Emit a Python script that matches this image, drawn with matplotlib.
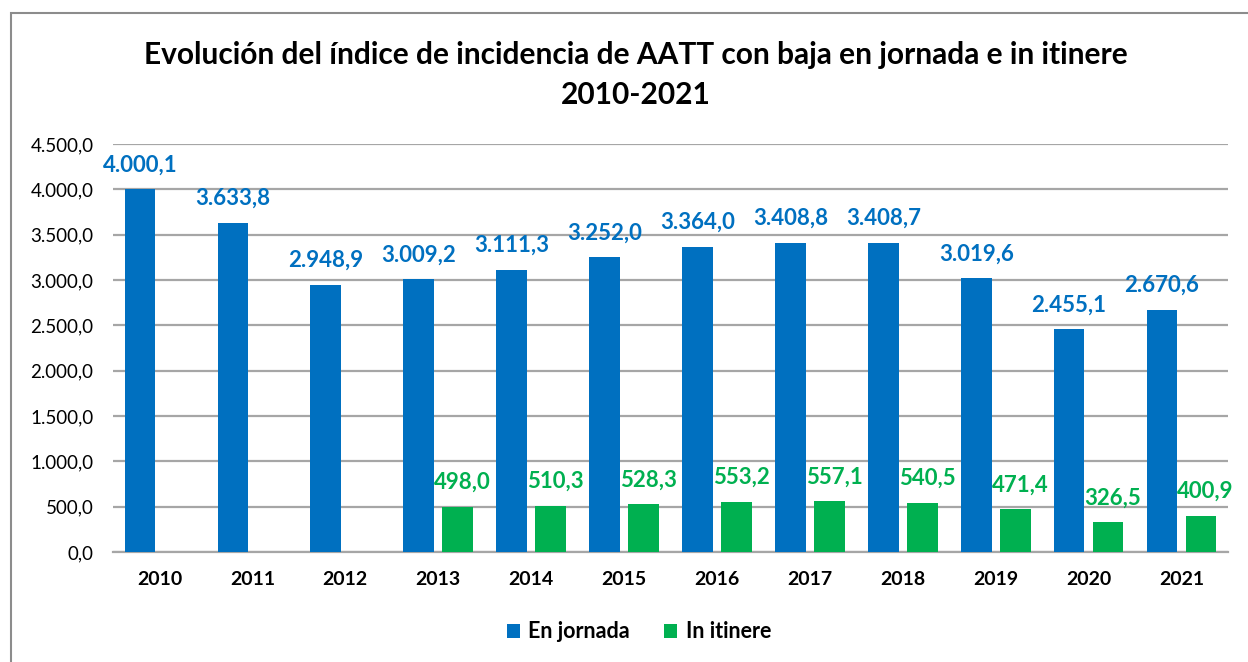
import matplotlib
matplotlib.use("Agg")
import matplotlib.pyplot as plt
import numpy as np
from matplotlib.patches import Rectangle
from matplotlib.ticker import FuncFormatter

years = ["2010", "2011", "2012", "2013", "2014", "2015",
         "2016", "2017", "2018", "2019", "2020", "2021"]
en_jornada = [4000.1, 3633.8, 2948.9, 3009.2, 3111.3, 3252.0,
              3364.0, 3408.8, 3408.7, 3019.6, 2455.1, 2670.6]
in_itinere = [np.nan, np.nan, np.nan, 498.0, 510.3, 528.3,
              553.2, 557.1, 540.5, 471.4, 326.5, 400.9]

BLUE = "#0070C0"
GREEN = "#00B050"
GRID = "#A6A6A6"


def es_fmt(v):
    s = f"{v:,.1f}"
    return s.replace(",", "X").replace(".", ",").replace("X", ".")


plt.rcParams["font.family"] = ["Lato", "DejaVu Sans"]

fig = plt.figure(figsize=(12.48, 6.62), dpi=100)
ax = fig.add_axes([113 / 1248, 1 - 552 / 662, 1115 / 1248, 408 / 662])

x = np.arange(len(years))
w = 0.33
off = 0.21
b1 = ax.bar(x - off, en_jornada, w, color=BLUE, label="En jornada", zorder=3)
b2 = ax.bar(x + off, in_itinere, w, color=GREEN, label="In itinere", zorder=3)

for xi, v in zip(x, en_jornada):
    ax.annotate(es_fmt(v), (xi - off, v), xytext=(0, 10), textcoords="offset points",
                ha="center", va="bottom", color=BLUE, fontsize=16, fontweight="bold")
for xi, v in zip(x, in_itinere):
    if np.isnan(v):
        continue
    ax.annotate(es_fmt(v), (xi + off + 0.05, v), xytext=(0, 10), textcoords="offset points",
                ha="center", va="bottom", color=GREEN, fontsize=16, fontweight="bold")

ax.set_xlim(-0.5, len(years) - 0.5)
ax.set_ylim(0, 4500)
ax.set_yticks(np.arange(0, 4501, 500))
ax.yaxis.set_major_formatter(FuncFormatter(lambda v, p: es_fmt(v)))
ax.set_xticks(x)
ax.set_xticklabels(years, fontweight="bold", fontsize=14)
ax.tick_params(axis="y", labelsize=13.5, length=0, pad=14)
ax.tick_params(axis="x", length=0, pad=14)
ax.grid(axis="y", color=GRID, linewidth=1.6, zorder=0)
for s in ["top", "right", "left"]:
    ax.spines[s].set_visible(False)
ax.spines["bottom"].set_color(GRID)
ax.spines["bottom"].set_linewidth(1.6)

cx = 636 / 1248
fig.text(cx, 1 - 55 / 662, "Evolución del índice de incidencia de AATT con baja en jornada e in itinere",
         ha="center", va="center", fontsize=21.5, fontweight="bold")
fig.text(cx, 1 - 95 / 662, "2010-2021", ha="center", va="center",
         fontsize=21.5, fontweight="bold")

fig.legend(handles=[b1, b2], loc="center", bbox_to_anchor=(639 / 1248, 1 - 632 / 662),
           ncol=2, frameon=False, prop={"weight": "bold", "size": 15.5},
           handlelength=0.6, handleheight=0.6, handletextpad=0.4, columnspacing=1.6)

fig.add_artist(Rectangle((11 / 1248, -0.5), 2, 1.5 - 13 / 662, transform=fig.transFigure,
                         fill=False, edgecolor="#8C8C8C", linewidth=1.5))

fig.savefig("out.png", dpi=100)
